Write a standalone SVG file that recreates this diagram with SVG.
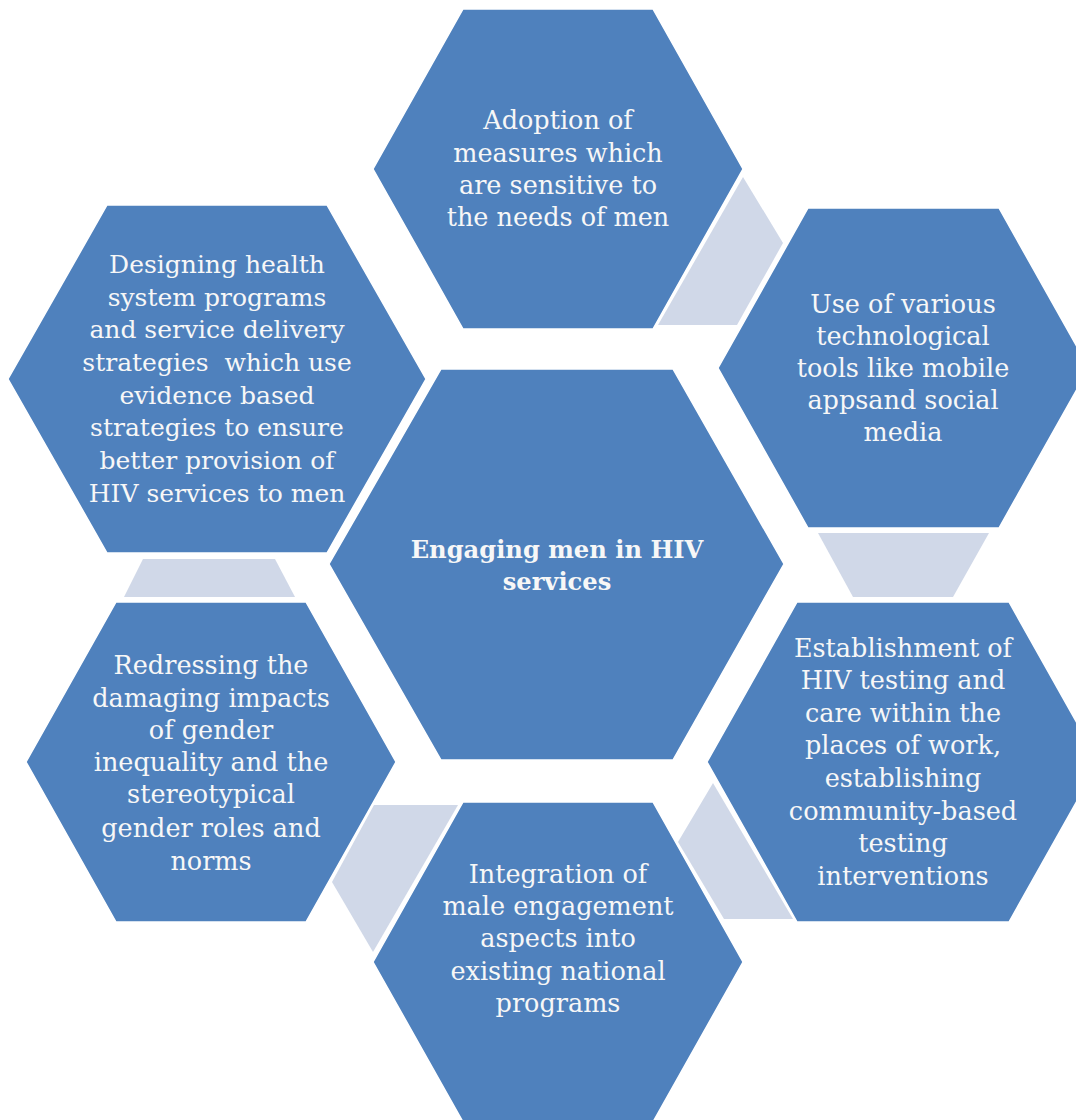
<svg xmlns="http://www.w3.org/2000/svg" width="1076" height="1120" viewBox="0 0 1076 1120">
<style>
.hex{fill:#4F81BD;stroke:#ffffff;stroke-width:1.5}
.lt{fill:#D0D8E8}
.t{font-family:"DejaVu Serif","Liberation Serif",serif;font-size:25.5px;fill:#F7F7F7;text-anchor:middle}
.b{font-weight:bold;font-size:24.2px}
</style>
<rect width="1076" height="1120" fill="#ffffff"/>
<g id="connectors">
<polygon class="lt" points="743,177 783,243 737,325 658,325"/>
<polygon class="lt" points="818,533 989,533 953,597 853,597"/>
<polygon class="lt" points="713,783 678,842 724,919 793,919"/>
<polygon class="lt" points="374,805 458,805 373,952 332,882"/>
<polygon class="lt" points="143,559 275,559 295,597 124,597"/>
</g>
<g id="node-top">
<polygon class="hex" points="373,169 463,9 653,9 743,169 653,329 463,329"/>
<text class="t" x="558" y="129">Adoption of</text>
<text class="t" x="558" y="162">measures which</text>
<text class="t" x="558" y="194">are sensitive to</text>
<text class="t" x="558" y="226">the needs of men</text>
</g>
<g id="node-topright">
<polygon class="hex" points="718,368 808,208 999,208 1089,368 999,528 808,528"/>
<text class="t" x="903" y="313">Use of various</text>
<text class="t" x="903" y="345">technological</text>
<text class="t" x="903" y="377">tools like mobile</text>
<text class="t" x="903" y="409">appsand social</text>
<text class="t" x="903" y="441">media</text>
</g>
<g id="node-midright">
<polygon class="hex" points="707,762 797,602 1009,602 1099,762 1009,922 797,922"/>
<text class="t" x="903" y="657">Establishment of</text>
<text class="t" x="903" y="689">HIV testing and</text>
<text class="t" x="903" y="722">care within the</text>
<text class="t" x="903" y="754">places of work,</text>
<text class="t" x="903" y="787">establishing</text>
<text class="t" x="903" y="820">community-based</text>
<text class="t" x="903" y="852">testing</text>
<text class="t" x="903" y="885">interventions</text>
</g>
<g id="node-bottom">
<polygon class="hex" points="373,962 463,802 653,802 743,962 653,1122 463,1122"/>
<text class="t" x="558" y="883">Integration of</text>
<text class="t" x="558" y="915">male engagement</text>
<text class="t" x="558" y="947">aspects into</text>
<text class="t" x="558" y="980">existing national</text>
<text class="t" x="558" y="1012">programs</text>
</g>
<g id="node-bottomleft">
<polygon class="hex" points="26,762 116,602 306,602 396,762 306,922 116,922"/>
<text class="t" x="211" y="674">Redressing the</text>
<text class="t" x="211" y="707">damaging impacts</text>
<text class="t" x="211" y="739">of gender</text>
<text class="t" x="211" y="771">inequality and the</text>
<text class="t" x="211" y="803">stereotypical</text>
<text class="t" x="211" y="837">gender roles and</text>
<text class="t" x="211" y="870">norms</text>
</g>
<g id="node-topleft">
<polygon class="hex" points="8,379 107,205 327,205 426,379 327,553 107,553"/>
<text class="t" x="217" y="273" style="font-size:25px">Designing health</text>
<text class="t" x="217" y="306" style="font-size:25px">system programs</text>
<text class="t" x="217" y="338" style="font-size:25px">and service delivery</text>
<text class="t" x="217" y="371" style="font-size:25px" xml:space="preserve">strategies  which use</text>
<text class="t" x="217" y="404" style="font-size:25px">evidence based</text>
<text class="t" x="217" y="436" style="font-size:25px">strategies to ensure</text>
<text class="t" x="217" y="469" style="font-size:25px">better provision of</text>
<text class="t" x="217" y="502" style="font-size:25px">HIV services to men</text>
</g>
<g id="node-center">
<polygon class="hex" points="329,564 441,369 673,369 784,564 673,760 441,760"/>
<text class="t b" x="557" y="558">Engaging men in HIV</text>
<text class="t b" x="557" y="590">services</text>
</g>
</svg>
